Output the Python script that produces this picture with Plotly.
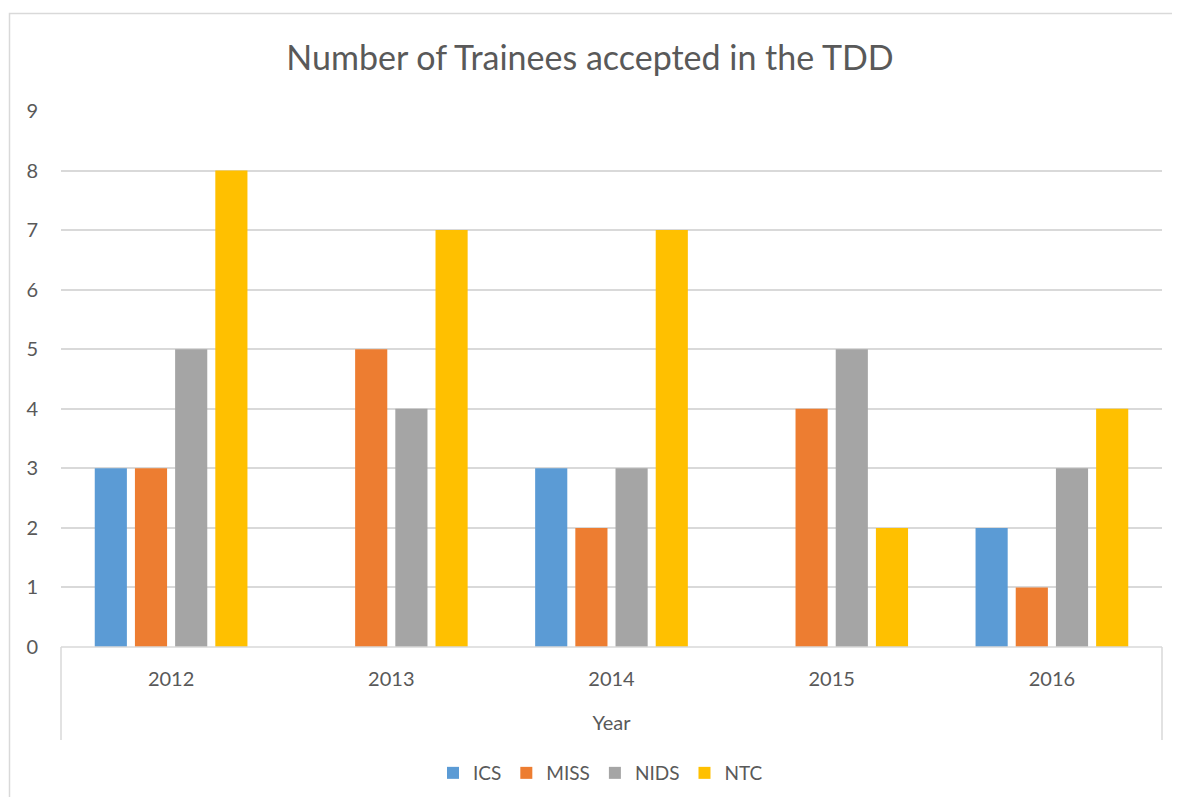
import plotly.graph_objects as go

years = ["2012", "2013", "2014", "2015", "2016"]
ics = [3, None, 3, None, 2]
miss = [3, 5, 2, 4, 1]
nids = [5, 4, 3, 5, 3]
ntc = [8, 7, 7, 2, 4]
series_names = ["ICS", "MISS", "NIDS", "NTC"]
colors = ["#5B9BD5", "#ED7D31", "#A5A5A5", "#FFC000"]

FONT = "Lato"
TXT = "#595959"
GRID = "#D9D9D9"

fig = go.Figure()
for name, vals, c in zip(series_names, [ics, miss, nids, ntc], colors):
    fig.add_trace(go.Bar(x=years, y=vals, name=name, marker=dict(color=c, line=dict(width=0))))

OFF = 8  # page body margin
W, H = 1180 - 2 * OFF, 805 - 2 * OFF
L, T = 61 - OFF, 111 - OFF
R = W - (1162 - OFF)
B = H - (647 - OFF)
pw, ph = W - L - R, H - T - B

def px(x):
    return (x - OFF - L) / pw

def py(y):
    return (H - B - (y - OFF)) / ph

shapes = [
    dict(type="rect", xref="paper", yref="paper", x0=px(9.5), x1=px(1200), y0=py(13.5), y1=py(830),
         line=dict(color=GRID, width=1.5), fillcolor="rgba(0,0,0,0)", layer="below"),
    dict(type="line", xref="paper", yref="paper", x0=0, x1=1, y0=0, y1=0, line=dict(color=GRID, width=1.5)),
    dict(type="line", xref="paper", yref="paper", x0=0, x1=0, y0=0, y1=py(740), line=dict(color=GRID, width=1.5)),
    dict(type="line", xref="paper", yref="paper", x0=1, x1=1, y0=0, y1=py(740), line=dict(color=GRID, width=1.5)),
]

fig.update_layout(
    width=W, height=H,
    margin=dict(l=L, r=R, t=T, b=B, autoexpand=False),
    paper_bgcolor="white", plot_bgcolor="white",
    barmode="group", bargap=0.27, bargroupgap=0.2,
    font=dict(family=FONT, color=TXT, size=20),
    title=dict(text="Number of Trainees accepted in the TDD", x=0.5, xanchor="center",
               y=1 - (58 - OFF) / H, yanchor="middle", font=dict(size=34, color=TXT, family=FONT)),
    xaxis=dict(showgrid=False, showline=False, ticks="", tickfont=dict(size=20, color=TXT),
               ticklabelstandoff=18, automargin=False,
               title=dict(text="Year", font=dict(size=20, color=TXT), standoff=26)),
    yaxis=dict(range=[0, 9], dtick=1, showgrid=True, gridcolor=GRID, gridwidth=1.5,
               zeroline=False, showline=False, ticks="", tickfont=dict(size=20, color=TXT),
               ticklabelstandoff=22, automargin=False),
    legend=dict(orientation="h", x=0.49, xanchor="center", y=py(773), yanchor="middle",
                font=dict(size=19, color=TXT), traceorder="normal", itemwidth=30),
    shapes=shapes,
)

fig.write_html("out.html")
